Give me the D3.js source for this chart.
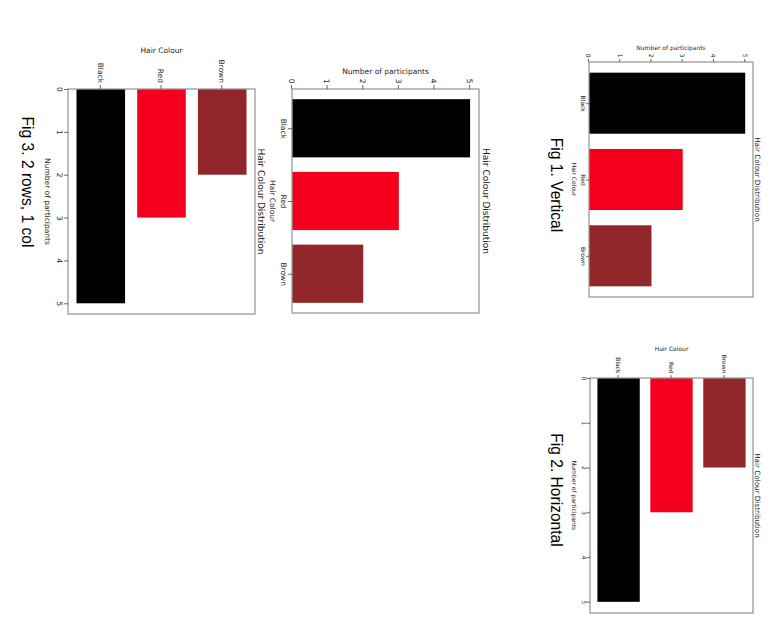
<!DOCTYPE html>
<html><head><meta charset="utf-8">
<script src="https://cdn.jsdelivr.net/npm/d3@7"></script>
<style>body{margin:0;background:#fff}svg{display:block}</style>
</head><body>
<svg id="c" width="779" height="634"></svg>
<script>
// ---- data ----
const categories = ["Black", "Red", "Brown"];
const participants = [5, 3, 2];
const barColours = ["#000000", "#f5001c", "#91262b"];
const valueTicks = [0, 1, 2, 3, 4, 5];
const chartTitle = "Hair Colour Distribution";
const valueLabel = "Number of participants";
const categoryLabel = "Hair Colour";
const captions = ["Fig 1. Vertical", "Fig 2. Horizontal", "Fig 3. 2 rows, 1 col"];

const data = categories.map((c, i) => ({ c, v: participants[i], col: barColours[i], i }));

const svg = d3.select("#c");
// whole page is rotated 90deg clockwise: local x -> screen y, local y -> 779 - screen x
const g = svg.append("g").attr("transform", "translate(779,0) rotate(90)");

const FONT = "DejaVu Sans, sans-serif";
const CAPFONT = "Liberation Sans, Arial, sans-serif";
const SPINE = "#9a9a9a";
const TXT = "#262626";

function drawPanel(p) {
  const G = g.append("g");
  const [x0, x1, y0, y1] = p.box;
  const catDom = [-0.54, 2.54];
  const valDom = [0, 5.25];
  let cat, val, leftAxis, bottomAxis, leftLabel, bottomLabel;
  if (p.orient === "v") {
    cat = d3.scaleLinear().domain(catDom).range([x0, x1]);
    val = d3.scaleLinear().domain(valDom).range([y1, y0]);
    G.selectAll("rect.bar").data(data).join("rect").attr("class", "bar")
      .attr("x", d => cat(d.i - 0.4)).attr("width", d => cat(d.i + 0.4) - cat(d.i - 0.4))
      .attr("y", d => val(d.v)).attr("height", d => val(0) - val(d.v))
      .attr("fill", d => d.col);
    leftAxis = d3.axisLeft(val).tickValues(valueTicks).tickFormat(d3.format("d"));
    bottomAxis = d3.axisBottom(cat).tickValues(data.map(d => d.i)).tickFormat(i => categories[i]);
    leftLabel = valueLabel; bottomLabel = categoryLabel;
  } else {
    val = d3.scaleLinear().domain(valDom).range([x0, x1]);
    cat = d3.scaleLinear().domain(catDom).range([y1, y0]);
    G.selectAll("rect.bar").data(data).join("rect").attr("class", "bar")
      .attr("y", d => cat(d.i + 0.4)).attr("height", d => cat(d.i - 0.4) - cat(d.i + 0.4))
      .attr("x", val(0)).attr("width", d => val(d.v) - val(0))
      .attr("fill", d => d.col);
    leftAxis = d3.axisLeft(cat).tickValues(data.map(d => d.i)).tickFormat(i => categories[i]);
    bottomAxis = d3.axisBottom(val).tickValues(valueTicks).tickFormat(d3.format("d"));
    leftLabel = categoryLabel; bottomLabel = valueLabel;
  }
  // spines
  G.append("rect").attr("x", x0).attr("y", y0).attr("width", x1 - x0).attr("height", y1 - y0)
    .attr("fill", "none").attr("stroke", SPINE).attr("stroke-width", 1.3);

  const la = G.append("g").attr("transform", `translate(${x0},0)`)
    .call(leftAxis.tickSize(p.tl).tickSizeOuter(0));
  const ba = G.append("g").attr("transform", `translate(0,${y1})`)
    .call(bottomAxis.tickSize(p.tl).tickSizeOuter(0));
  [la, ba].forEach(a => {
    a.select(".domain").remove();
    a.selectAll(".tick line").attr("stroke", "#444").attr("stroke-width", 0.8);
    a.selectAll(".tick text").attr("font-family", FONT).attr("font-size", p.fs).attr("fill", TXT);
  });
  la.selectAll(".tick text").attr("x", -p.leftOff).attr("dy", "0.35em");
  ba.selectAll(".tick text").attr("y", p.bottomBase).attr("dy", 0);

  // title
  G.append("text").attr("x", (x0 + x1) / 2).attr("y", y0 - p.titleOff)
    .attr("text-anchor", "middle").attr("font-family", FONT).attr("font-size", p.tfs)
    .attr("fill", TXT).text(chartTitle);
  // bottom label
  G.append("text").attr("x", (x0 + x1) / 2).attr("y", y1 + p.xlabBase)
    .attr("text-anchor", "middle").attr("font-family", FONT).attr("font-size", p.fs)
    .attr("fill", TXT).text(bottomLabel);
  // left label (rotated)
  G.append("text").attr("transform", `translate(${x0 - p.ylabOff},${(y0 + y1) / 2}) rotate(-90)`)
    .attr("text-anchor", "middle").attr("font-family", FONT).attr("font-size", p.fs)
    .attr("fill", TXT).text(leftLabel);
  if (p.caption) {
    G.append("text").attr("x", p.caption.x).attr("y", p.caption.y)
      .attr("text-anchor", "middle").attr("font-family", CAPFONT).attr("font-size", 15.6)
      .attr("fill", "#000").text(p.caption.t);
  }
}

drawPanel({ orient: "v", box: [62, 297, 26, 190], fs: 6, tfs: 7.2, tl: 3, leftOff: 4.5,
  bottomBase: 8.2, titleOff: 2, xlabBase: 17, ylabOff: 12.5,
  caption: { x: 185, y: 228, t: captions[0] } });
drawPanel({ orient: "h", box: [378, 613, 26, 189], fs: 6, tfs: 7.2, tl: 3, leftOff: 4.5,
  bottomBase: 8.5, titleOff: 2, xlabBase: 18, ylabOff: 27,
  caption: { x: 490, y: 228, t: captions[1] } });
drawPanel({ orient: "v", box: [89, 313, 300, 487], fs: 7.5, tfs: 9, tl: 4, leftOff: 5.5,
  bottomBase: 11, titleOff: 4, xlabBase: 22, ylabOff: 15.5 });
drawPanel({ orient: "h", box: [89, 314, 524, 711], fs: 7.5, tfs: 9, tl: 4, leftOff: 6,
  bottomBase: 11, titleOff: 3, xlabBase: 23, ylabOff: 36,
  caption: { x: 182, y: 757, t: captions[2] } });
</script>
</body></html>
